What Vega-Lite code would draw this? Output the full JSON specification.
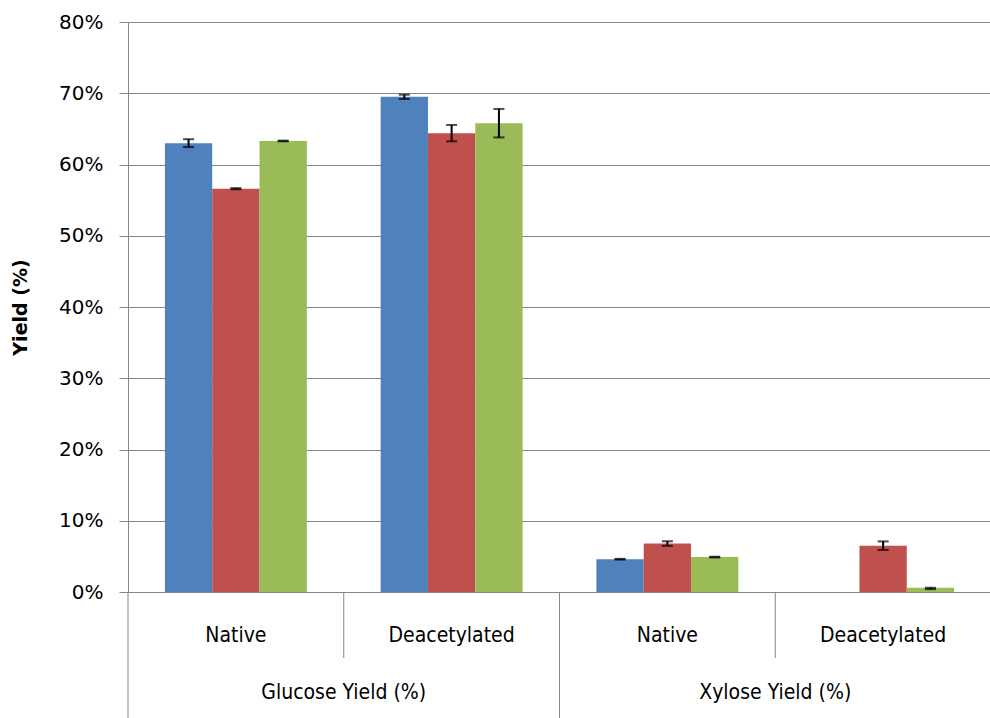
{
  "$schema": "https://vega.github.io/schema/vega-lite/v6.json",
  "background": "white",
  "padding": {"left": 11, "top": 12, "right": 0, "bottom": 0},
  "spacing": 0,
  "bounds": "flush",
  "config": {"view": {"stroke": null}, "font": "DejaVu Sans", "concat": {"spacing": 0}},
  "datasets": {
    "bars": [
      {"group": "Glucose Yield (%) - Native", "series": "Series 1", "value": 0.630, "lo": 0.6245, "hi": 0.6355},
      {"group": "Glucose Yield (%) - Native", "series": "Series 2", "value": 0.566, "lo": 0.5652, "hi": 0.5668},
      {"group": "Glucose Yield (%) - Native", "series": "Series 3", "value": 0.633, "lo": 0.6325, "hi": 0.6335},
      {"group": "Glucose Yield (%) - Deacetylated", "series": "Series 1", "value": 0.695, "lo": 0.692, "hi": 0.698},
      {"group": "Glucose Yield (%) - Deacetylated", "series": "Series 2", "value": 0.644, "lo": 0.6325, "hi": 0.6555},
      {"group": "Glucose Yield (%) - Deacetylated", "series": "Series 3", "value": 0.658, "lo": 0.638, "hi": 0.678},
      {"group": "Xylose Yield (%) - Native", "series": "Series 1", "value": 0.046, "lo": 0.0455, "hi": 0.0465},
      {"group": "Xylose Yield (%) - Native", "series": "Series 2", "value": 0.068, "lo": 0.0648, "hi": 0.0712},
      {"group": "Xylose Yield (%) - Native", "series": "Series 3", "value": 0.049, "lo": 0.0485, "hi": 0.0495},
      {"group": "Xylose Yield (%) - Deacetylated", "series": "Series 1", "value": 0, "lo": null, "hi": null},
      {"group": "Xylose Yield (%) - Deacetylated", "series": "Series 2", "value": 0.065, "lo": 0.059, "hi": 0.071},
      {"group": "Xylose Yield (%) - Deacetylated", "series": "Series 3", "value": 0.006, "lo": 0.004, "hi": 0.006}
    ],
    "groups": [
      {"group": "Glucose Yield (%) - Native", "treat": "Native"},
      {"group": "Glucose Yield (%) - Deacetylated", "treat": "Deacetylated"},
      {"group": "Xylose Yield (%) - Native", "treat": "Native"},
      {"group": "Xylose Yield (%) - Deacetylated", "treat": "Deacetylated"}
    ],
    "cats": [
      {"cat": "Glucose Yield (%)"},
      {"cat": "Xylose Yield (%)"}
    ]
  },
  "resolve": {"scale": {"x": "independent"}},
  "vconcat": [
    {
      "width": 863,
      "height": 570,
      "data": {"name": "bars"},
      "encoding": {
        "x": {
          "field": "group", "type": "nominal", "sort": null,
          "scale": {"paddingInner": 0, "paddingOuter": 0},
          "axis": {"labels": false, "ticks": false, "title": null, "domainColor": "#868686", "domainWidth": 1, "grid": false}
        },
        "xOffset": {
          "field": "series", "type": "nominal", "sort": null,
          "scale": {"paddingOuter": 0.78, "paddingInner": 0}
        }
      },
      "layer": [
        {
          "mark": {"type": "bar"},
          "encoding": {
            "y": {
              "field": "value", "type": "quantitative",
              "scale": {"domain": [0, 0.8], "nice": false, "zero": true},
              "axis": {
                "values": [0, 0.1, 0.2, 0.3, 0.4, 0.5, 0.6, 0.7, 0.8],
                "format": ".0%",
                "title": "Yield (%)",
                "titleFont": "DejaVu Sans",
                "titleFontSize": 19,
                "titleFontWeight": "bold",
                "titleColor": "#000000",
                "titlePadding": 28,
                "labelFont": "DejaVu Sans",
                "labelFontSize": 20,
                "labelColor": "#000000",
                "labelPadding": 16,
                "tickSize": 9,
                "tickColor": "#868686",
                "domainColor": "#868686",
                "grid": true,
                "gridColor": "#868686",
                "gridWidth": 1
              }
            },
            "color": {
              "field": "series", "type": "nominal", "sort": null,
              "scale": {"range": ["#4F81BD", "#C0504D", "#9BBB59"]},
              "legend": null
            }
          }
        },
        {
          "mark": {"type": "rule", "color": "#000000", "strokeWidth": 2},
          "encoding": {
            "y": {"field": "lo", "type": "quantitative"},
            "y2": {"field": "hi"}
          }
        },
        {
          "mark": {"type": "tick", "color": "#000000", "size": 11, "thickness": 2},
          "encoding": {"y": {"field": "lo", "type": "quantitative"}}
        },
        {
          "mark": {"type": "tick", "color": "#000000", "size": 11, "thickness": 2},
          "encoding": {"y": {"field": "hi", "type": "quantitative"}}
        }
      ]
    },
    {
      "width": 863,
      "height": 66,
      "data": {"name": "groups"},
      "layer": [
        {
          "mark": {"type": "rule", "color": "#868686", "strokeWidth": 1},
          "encoding": {
            "x": {"field": "group", "type": "nominal", "sort": null, "bandPosition": 0,
                  "scale": {"paddingInner": 0, "paddingOuter": 0}, "axis": null}
          }
        },
        {
          "mark": {"type": "text", "font": "DejaVu Sans Condensed", "fontSize": 21, "color": "#000000", "dy": 11},
          "encoding": {
            "x": {"field": "group", "type": "nominal", "sort": null,
                  "scale": {"paddingInner": 0, "paddingOuter": 0}, "axis": null},
            "text": {"field": "treat"}
          }
        }
      ]
    },
    {
      "width": 863,
      "height": 62,
      "data": {"name": "cats"},
      "layer": [
        {
          "mark": {"type": "rule", "color": "#868686", "strokeWidth": 1},
          "encoding": {
            "x": {"field": "cat", "type": "nominal", "sort": null, "bandPosition": 0,
                  "scale": {"paddingInner": 0, "paddingOuter": 0}, "axis": null}
          }
        },
        {
          "mark": {"type": "text", "font": "DejaVu Sans Condensed", "fontSize": 21, "color": "#000000", "dy": 4},
          "encoding": {
            "x": {"field": "cat", "type": "nominal", "sort": null,
                  "scale": {"paddingInner": 0, "paddingOuter": 0}, "axis": null},
            "text": {"field": "cat"}
          }
        }
      ]
    }
  ]
}
